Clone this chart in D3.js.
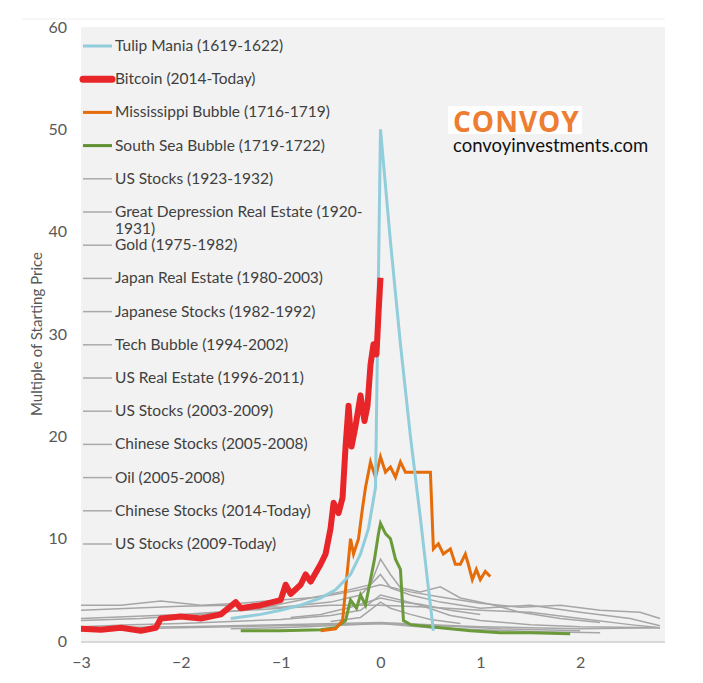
<!DOCTYPE html>
<html><head><meta charset="utf-8">
<script src="https://cdn.jsdelivr.net/npm/d3@7"></script>
<style>body{margin:0;background:#fff;font-family:Lato,"Open Sans",sans-serif}</style>
</head><body><div id="chart"></div>
<script>
// series values: [years from peak, multiple]
const tulip = [[-1.5,2.2],[-1.2,2.6],[-1,3],[-0.8,3.5],[-0.6,4.2],[-0.45,5],[-0.3,6.5],[-0.2,8.5],[-0.12,11],[-0.05,15],[0,50],[0.1,39],[0.2,29],[0.3,20],[0.4,12],[0.47,6],[0.53,1]];
const bitcoin = [[-3,1.2],[-2.8,1.1],[-2.6,1.3],[-2.4,1.0],[-2.25,1.3],[-2.2,2.2],[-2.0,2.4],[-1.8,2.2],[-1.6,2.6],[-1.45,3.8],[-1.4,3.2],[-1.2,3.5],[-1.0,4.0],[-0.95,5.5],[-0.9,4.6],[-0.8,5.5],[-0.75,6.5],[-0.7,5.8],[-0.6,7.5],[-0.55,8.5],[-0.5,11],[-0.47,13.5],[-0.42,12.5],[-0.38,14],[-0.35,19],[-0.32,23],[-0.29,19],[-0.25,21],[-0.2,24],[-0.16,21.5],[-0.13,23],[-0.1,27],[-0.07,29],[-0.04,28],[-0.02,32],[0,35.5]];
const mississippi = [[-0.6,1],[-0.45,1.2],[-0.38,2],[-0.35,5],[-0.3,10],[-0.27,8.5],[-0.22,10],[-0.18,13],[-0.15,15],[-0.1,17.5],[-0.05,16],[0,18],[0.05,16.5],[0.1,17],[0.15,16],[0.2,17.5],[0.25,16.5],[0.5,16.5],[0.53,9],[0.58,9.5],[0.63,8.5],[0.7,9],[0.75,7.5],[0.8,7.5],[0.85,8.5],[0.88,7.5],[0.92,6],[0.96,7],[1.0,6],[1.05,6.8],[1.1,6.3]];
const southSea = [[-1.4,1],[-1.0,1.0],[-0.6,1.1],[-0.45,1.3],[-0.35,2],[-0.3,4],[-0.24,3.2],[-0.2,4.5],[-0.15,3.5],[-0.1,6],[-0.06,8],[-0.02,10.5],[0,11.5],[0.05,10.5],[0.1,10],[0.15,8],[0.2,7],[0.23,2],[0.3,1.6],[0.5,1.4],[0.7,1.2],[0.9,1.0],[1.2,0.8],[1.5,0.8],[1.9,0.7]];
const grays = [
  [[-3,3.5],[-2.6,3.5],[-2.2,3.9],[-1.8,3.5],[-1.4,3.7],[-1,4.0],[-0.6,4.3],[-0.2,5.0],[0,5.5],[0.3,4.8],[0.6,4.3],[1,3.7],[1.4,3.3],[1.8,3.5],[2.2,3.0],[2.6,2.8],[2.8,2.2]],
  [[-3,3.0],[-2.5,3.2],[-2,3.4],[-1.5,3.5],[-1,3.3],[-0.5,3.8],[-0.2,4.5],[0,6.5],[0.1,5.2],[0.3,4.5],[0.6,3.8],[1,3.2],[1.5,3.5],[2,2.8],[2.5,2.2],[2.8,1.5]],
  [[-3,2.2],[-2.5,2.4],[-2,2.6],[-1.5,2.9],[-1,3.2],[-0.5,3.5],[0,3.5],[0.5,3.3],[1,3.0],[1.5,2.8],[2,2.2],[2.5,1.6],[2.8,1.3]],
  [[-3,2.0],[-2.4,2.2],[-1.8,2.6],[-1.2,3.2],[-0.8,4.0],[-0.4,4.8],[-0.1,5.5],[0,8],[0.1,6.5],[0.2,5.2],[0.4,4.8],[0.6,5.3],[0.8,4.2],[1.1,3.6],[1.4,2.8],[1.8,2.2],[2.2,1.8]],
  [[-3,1.4],[-2.5,1.6],[-2,1.7],[-1.5,1.9],[-1,2.1],[-0.5,2.5],[-0.2,3.0],[0,4.5],[0.2,4.0],[0.4,3.5],[0.7,2.5],[1,2.0],[1.5,1.6],[2,1.4],[2.8,1.3]],
  [[-3,1.3],[-2,1.4],[-1,1.6],[0,1.8],[0.5,1.6],[1,1.4],[1.5,1.3],[2,1.2],[2.8,1.3]],
  [[-3,1.1],[-2,1.3],[-1,1.5],[-0.5,1.6],[0,1.7],[0.6,1.5],[1.2,1.2],[2,1.0]],
  [[-1.5,1.2],[-1,1.3],[-0.5,1.5],[0,1.7],[0.5,1.3],[1,1.1],[1.6,0.9],[2.2,0.8]],
  [[-0.9,2.3],[-0.6,2.6],[-0.3,3.3],[0,4.2],[0.2,3.8],[0.4,3.6],[0.7,3.0],[1.0,2.6]],
  [[-0.5,1.9],[-0.2,2.3],[0,3.8],[0.1,3.2],[0.3,2.6],[0.5,2.1],[0.8,1.7]]
];
const legendLabels = [
  ["Tulip Mania (1619-1622)","#92cddc",3],["Bitcoin (2014-Today)","#e8262a",7],
  ["Mississippi Bubble (1716-1719)","#e46c0a",3],["South Sea Bubble (1719-1722)","#5e8f30",3],
  ["US Stocks (1923-1932)","#aaa",1.5],["Great Depression Real Estate (1920-|1931)","#aaa",1.5],
  ["Gold (1975-1982)","#aaa",1.5],["Japan Real Estate (1980-2003)","#aaa",1.5],
  ["Japanese Stocks (1982-1992)","#aaa",1.5],["Tech Bubble (1994-2002)","#aaa",1.5],
  ["US Real Estate (1996-2011)","#aaa",1.5],["US Stocks (2003-2009)","#aaa",1.5],
  ["Chinese Stocks (2005-2008)","#aaa",1.5],["Oil (2005-2008)","#aaa",1.5],
  ["Chinese Stocks (2014-Today)","#aaa",1.5],["US Stocks (2009-Today)","#aaa",1.5]
];
const xTicks = [-3,-2,-1,0,1,2];
const yTicks = [0,10,20,30,40,50,60];

const W = 703, H = 683;
const x = d3.scaleLinear().domain([-3,2.85]).range([81,665]);
const y = d3.scaleLinear().domain([0,60]).range([641,27]);
const svg = d3.select("#chart").append("svg").attr("width",W).attr("height",H);

svg.append("line").attr("x1",22).attr("x2",665).attr("y1",19).attr("y2",19).attr("stroke","#eee");
svg.append("rect").attr("x",x(-3)).attr("y",y(60)).attr("width",x(2.85)-x(-3)).attr("height",y(0)-y(60)).attr("fill","#f2f2f2");
svg.append("line").attr("x1",x(-3)).attr("x2",x(2.85)).attr("y1",y(0)+1).attr("y2",y(0)+1).attr("stroke","#d9d9d9").attr("stroke-width",2);

const yAxis = svg.append("g").attr("transform",`translate(${x(-3)},0)`)
  .call(d3.axisLeft(y).tickValues(yTicks).tickSize(0).tickPadding(14));
const xAxis = svg.append("g").attr("transform",`translate(0,${y(0)})`)
  .call(d3.axisBottom(x).tickValues(xTicks).tickFormat(d3.format("d")).tickSize(0).tickPadding(16));
[yAxis,xAxis].forEach(a=>{a.select(".domain").remove();a.selectAll("text").attr("fill","#595959").attr("font-size",16).attr("font-family","Lato");});

svg.append("text").attr("transform","rotate(-90)").attr("x",-(y(30))).attr("y",42)
  .attr("text-anchor","middle").attr("fill","#595959").attr("font-size",15).attr("font-family","Lato")
  .text("Multiple of Starting Price");

const line = d3.line().x(d=>x(d[0])).y(d=>y(d[1]));
const g = svg.append("g");
grays.forEach(s=>g.append("path").attr("d",line(s)).attr("fill","none").attr("stroke","#a6a6a6").attr("stroke-width",1.5));
g.append("path").attr("d",line(southSea)).attr("fill","none").attr("stroke","#6a9a3a").attr("stroke-width",3);
g.append("path").attr("d",line(mississippi)).attr("fill","none").attr("stroke","#e46c0a").attr("stroke-width",3);
g.append("path").attr("d",line(tulip)).attr("fill","none").attr("stroke","#92cddc").attr("stroke-width",3);
g.append("path").attr("d",line(bitcoin)).attr("fill","none").attr("stroke","#e8262a").attr("stroke-width",6).attr("stroke-linejoin","round");

// legend
const leg = svg.append("g");
legendLabels.forEach((d,i)=>{
  const ly = 46 + i*33.2;
  leg.append("line").attr("x1",83).attr("x2",112).attr("y1",ly).attr("y2",ly)
    .attr("stroke",d[1]).attr("stroke-width",d[2]).attr("stroke-linecap",d[2]>5?"round":"butt");
  const parts = d[0].split("|");
  parts.forEach((p,j)=>leg.append("text").attr("x",115).attr("y",ly+5+j*17)
    .attr("fill","#404040").attr("font-size",15.5).attr("font-family","Lato").text(p));
});

// logo
svg.append("rect").attr("x",448).attr("y",106).attr("width",134).attr("height",28).attr("fill","#fff");
svg.append("text").attr("x",453).attr("y",132).attr("fill","#ed7d31").attr("font-size",28)
  .attr("font-weight",700).attr("font-family","Open Sans").attr("letter-spacing",1).text("CONVOY");
svg.append("text").attr("x",453).attr("y",152).attr("fill","#111").attr("font-size",18.5)
  .attr("font-family","Lato").text("convoyinvestments.com");
</script></body></html>
